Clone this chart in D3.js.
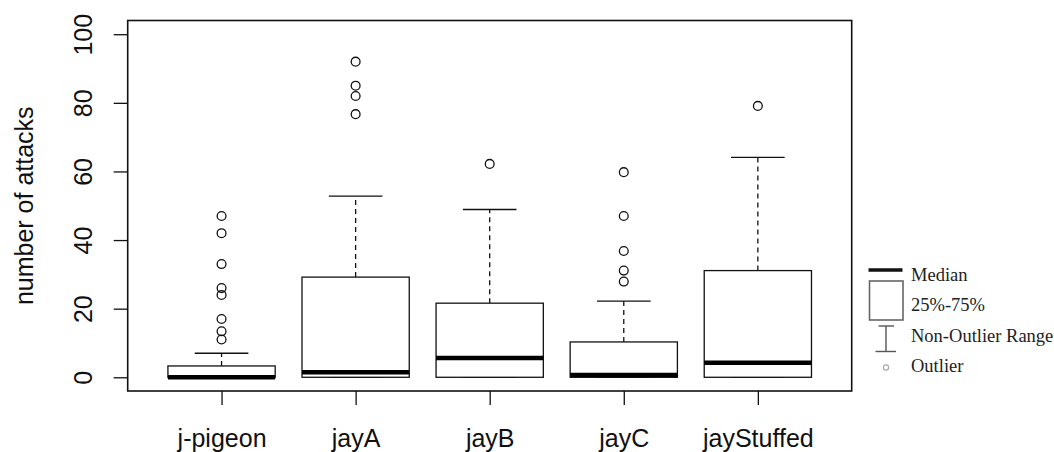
<!DOCTYPE html>
<html>
<head>
<meta charset="utf-8">
<script src="https://cdn.jsdelivr.net/npm/d3@7"></script>
<style>
  body { margin: 0; background: #fff; }
  svg { display: block; }
</style>
</head>
<body>
<svg id="chart" width="1054" height="452"></svg>
<script>
// values
var categories = ['j-pigeon', 'jayA', 'jayB', 'jayC', 'jayStuffed'];
var q1 = [0, 0, 0, 0, 0];
var medians = [0, 1.5, 5.6, 0.7, 4.2];
var q3 = [3.3, 29.2, 21.6, 10.3, 31.1];
var whiskerLow = [0, 0, 0, 0, 0];
var whiskerHigh = [7, 52.8, 48.9, 22.2, 64.1];
var outliers = [
    [47, 42, 33, 26, 24, 17, 13.4, 11],
    [92, 85, 82, 76.7],
    [62.2],
    [59.8, 47, 36.8, 31.1, 27.9],
    [79.1]
];
var yTicks = [0, 20, 40, 60, 80, 100];
var legendLabels = ['Median', '25%-75%', 'Non-Outlier Range', 'Outlier'];

var svg = d3.select('#chart');
var plot = { left: 127.7, right: 851.7, top: 20.5, bottom: 391 };

var x = d3.scaleLinear()
    .domain([0.3, categories.length + 0.7])
    .range([plot.left, plot.right]);

var y = d3.scaleLinear()
    .domain([-4, 104])
    .range([plot.bottom, plot.top]);

var boxes = categories.map(function(c, i) {
    return {
        name: c, pos: i + 1, q1: q1[i], med: medians[i], q3: q3[i],
        lo: whiskerLow[i], hi: whiskerHigh[i], out: outliers[i]
    };
});

var boxHalf = 0.4, capHalf = 0.2;

// y axis
var yAxis = svg.append('g')
    .attr('transform', 'translate(' + plot.left + ',0)')
    .call(d3.axisLeft(y).tickValues(yTicks).tickSize(14).tickSizeOuter(0));
yAxis.select('.domain').remove();
yAxis.selectAll('line').attr('stroke', '#111').attr('stroke-width', 1.3);
yAxis.selectAll('text')
    .attr('x', null).attr('dy', 0)
    .attr('transform', 'translate(-36,0) rotate(-90)')
    .attr('text-anchor', 'middle')
    .attr('fill', '#111')
    .style('font-family', '"Liberation Sans", Arial, sans-serif')
    .style('font-size', '25px');

// x axis
var xAxis = svg.append('g')
    .attr('transform', 'translate(0,' + plot.bottom + ')')
    .call(d3.axisBottom(x)
        .tickValues(boxes.map(function(d) { return d.pos; }))
        .tickFormat(function(d) { return categories[d - 1]; })
        .tickSize(14).tickSizeOuter(0));
xAxis.select('.domain').remove();
xAxis.selectAll('line').attr('stroke', '#111').attr('stroke-width', 1.3);
xAxis.selectAll('text')
    .attr('y', 56).attr('dy', 0)
    .attr('fill', '#111')
    .style('font-family', '"Liberation Sans", Arial, sans-serif')
    .style('font-size', '25px');

// y title
svg.append('text')
    .attr('transform', 'translate(33,' + ((plot.top + plot.bottom) / 2) + ') rotate(-90)')
    .attr('text-anchor', 'middle')
    .attr('fill', '#111')
    .style('font-family', '"Liberation Sans", Arial, sans-serif')
    .style('font-size', '25px')
    .text('number of attacks');

var g = svg.append('g');

// whiskers
g.selectAll('.whiskerUp').data(boxes).enter().append('line')
    .attr('x1', function(d) { return x(d.pos); })
    .attr('x2', function(d) { return x(d.pos); })
    .attr('y1', function(d) { return y(d.q3); })
    .attr('y2', function(d) { return y(d.hi); })
    .attr('stroke', '#111').attr('stroke-width', 1.3)
    .attr('stroke-dasharray', '5,4');

g.selectAll('.whiskerDown').data(boxes).enter().append('line')
    .attr('x1', function(d) { return x(d.pos); })
    .attr('x2', function(d) { return x(d.pos); })
    .attr('y1', function(d) { return y(d.q1); })
    .attr('y2', function(d) { return y(d.lo); })
    .attr('stroke', '#111').attr('stroke-width', 1.3)
    .attr('stroke-dasharray', '5,4');

g.selectAll('.capHi').data(boxes).enter().append('line')
    .attr('x1', function(d) { return x(d.pos - capHalf); })
    .attr('x2', function(d) { return x(d.pos + capHalf); })
    .attr('y1', function(d) { return y(d.hi); })
    .attr('y2', function(d) { return y(d.hi); })
    .attr('stroke', '#111').attr('stroke-width', 1.3);

g.selectAll('.capLo').data(boxes).enter().append('line')
    .attr('x1', function(d) { return x(d.pos - capHalf); })
    .attr('x2', function(d) { return x(d.pos + capHalf); })
    .attr('y1', function(d) { return y(d.lo); })
    .attr('y2', function(d) { return y(d.lo); })
    .attr('stroke', '#111').attr('stroke-width', 1.3);

// boxes
g.selectAll('.box').data(boxes).enter().append('rect')
    .attr('x', function(d) { return x(d.pos - boxHalf); })
    .attr('width', function(d) { return x(d.pos + boxHalf) - x(d.pos - boxHalf); })
    .attr('y', function(d) { return y(d.q3); })
    .attr('height', function(d) { return y(d.q1) - y(d.q3); })
    .attr('fill', '#fff')
    .attr('stroke', '#111').attr('stroke-width', 1.3);

// medians
g.selectAll('.median').data(boxes).enter().append('line')
    .attr('x1', function(d) { return x(d.pos - boxHalf); })
    .attr('x2', function(d) { return x(d.pos + boxHalf); })
    .attr('y1', function(d) { return y(d.med); })
    .attr('y2', function(d) { return y(d.med); })
    .attr('stroke', '#000').attr('stroke-width', 4.5);

// outliers
boxes.forEach(function(b) {
    g.selectAll(null).data(b.out).enter().append('circle')
        .attr('cx', x(b.pos))
        .attr('cy', function(v) { return y(v); })
        .attr('r', 4.4)
        .attr('fill', 'none')
        .attr('stroke', '#111').attr('stroke-width', 1.3);
});

// frame
svg.append('rect')
    .attr('x', plot.left).attr('y', plot.top)
    .attr('width', plot.right - plot.left)
    .attr('height', plot.bottom - plot.top)
    .attr('fill', 'none')
    .attr('stroke', '#111').attr('stroke-width', 1.6);

// legend, outside the plot on the right
var leg = svg.append('g');
var legX = 911, legBase = [281, 311, 341.7, 372.3];

leg.selectAll('text').data(legendLabels).enter().append('text')
    .attr('x', legX)
    .attr('y', function(d, i) { return legBase[i]; })
    .attr('fill', '#222')
    .style('font-family', '"Liberation Serif", "Times New Roman", serif')
    .style('font-size', '18.5px')
    .text(function(d) { return d; });

leg.append('line')
    .attr('x1', 868.5).attr('x2', 902.5).attr('y1', 270).attr('y2', 270)
    .attr('stroke', '#111').attr('stroke-width', 3.5);

leg.append('rect')
    .attr('x', 869.5).attr('y', 281).attr('width', 33.5).attr('height', 39)
    .attr('fill', 'none').attr('stroke', '#666').attr('stroke-width', 1.6);

leg.append('line')
    .attr('x1', 886).attr('x2', 886).attr('y1', 326).attr('y2', 351.5)
    .attr('stroke', '#555').attr('stroke-width', 1.4);
leg.append('line')
    .attr('x1', 878.5).attr('x2', 894).attr('y1', 326).attr('y2', 326)
    .attr('stroke', '#555').attr('stroke-width', 1.4);
leg.append('line')
    .attr('x1', 875.5).attr('x2', 896).attr('y1', 351.5).attr('y2', 351.5)
    .attr('stroke', '#555').attr('stroke-width', 1.4);

leg.append('circle')
    .attr('cx', 886).attr('cy', 367.5).attr('r', 2.6)
    .attr('fill', 'none').attr('stroke', '#aaa').attr('stroke-width', 1.2);
</script>
</body>
</html>
